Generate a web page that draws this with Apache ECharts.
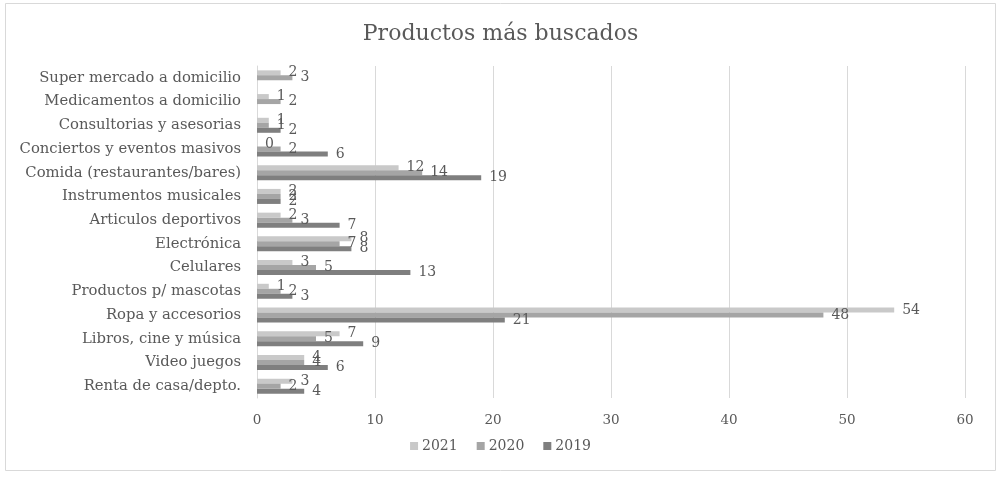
<!DOCTYPE html>
<html>
<head>
<meta charset="utf-8">
<script src="https://cdn.jsdelivr.net/npm/echarts@6/dist/echarts.min.js"></script>
<style>html,body{margin:0;padding:0;background:#fff}#c{width:1001px;height:477px}</style>
</head>
<body>
<div id="c"></div>
<script>
const categories = ["Super mercado a domicilio","Medicamentos a domicilio","Consultorias y asesorias","Conciertos y eventos masivos","Comida (restaurantes/bares)","Instrumentos musicales","Articulos deportivos","Electrónica","Celulares","Productos p/ mascotas","Ropa y accesorios","Libros, cine y música","Video juegos","Renta de casa/depto."];
const s2021 = [2,1,1,0,12,2,2,8,3,1,54,7,4,3];
const s2020 = [3,2,1,2,14,2,3,7,5,2,48,5,4,2];
const s2019 = [null,null,2,6,19,2,7,8,13,3,21,9,6,4];
const seriesNames = ["2021","2020","2019"];
const xTicks = {min:0,max:60,interval:10};

const font = "DejaVu Serif";
const txt = "#595959";
const colors = ["#c9c9c9","#a5a5a5","#7f7f7f"];
const chart = echarts.init(document.getElementById('c'));
const mk = (name, data, i) => ({
  name, type:'bar', data, barWidth:5, barGap:'0%', barCategoryGap:'35%',
  itemStyle:{color:colors[i]},
  label:{show:true, position:'right', distance:8, color:txt, fontFamily:font, fontSize:14,
    formatter:p=> p.value==null ? '' : String(p.value)}
});
chart.setOption({
  animation:false,
  backgroundColor:'#fff',
  graphic:[{type:'rect', shape:{x:5.5,y:3.5,width:990,height:467}, style:{fill:'none',stroke:'#d9d9d9',lineWidth:1}, silent:true}],
  title:{text:'Productos más buscados', left:'center', top:18, textStyle:{fontFamily:font, fontSize:22, fontWeight:'normal', color:txt}},
  legend:{bottom:19, left:'center', itemWidth:8, itemHeight:8, itemGap:19, icon:'rect',
    textStyle:{fontFamily:font, fontSize:14, color:txt, padding:[0,0,0,-1]}, data:seriesNames},
  grid:{left:257, right:36, top:66, bottom:79, containLabel:false},
  xAxis:{type:'value', min:xTicks.min, max:xTicks.max, interval:xTicks.interval,
    axisLine:{show:false}, axisTick:{show:false},
    splitLine:{lineStyle:{color:'#d9d9d9'}},
    axisLabel:{color:txt, fontFamily:font, fontSize:13.5, margin:15}},
  yAxis:{type:'category', data:categories, inverse:true,
    axisLine:{show:true, lineStyle:{color:'#d9d9d9'}}, axisTick:{show:false},
    axisLabel:{color:txt, fontFamily:font, fontSize:14.8, margin:16}},
  series:[mk(seriesNames[0], s2021, 0), mk(seriesNames[1], s2020, 1), mk(seriesNames[2], s2019, 2)]
});
</script>
</body>
</html>
